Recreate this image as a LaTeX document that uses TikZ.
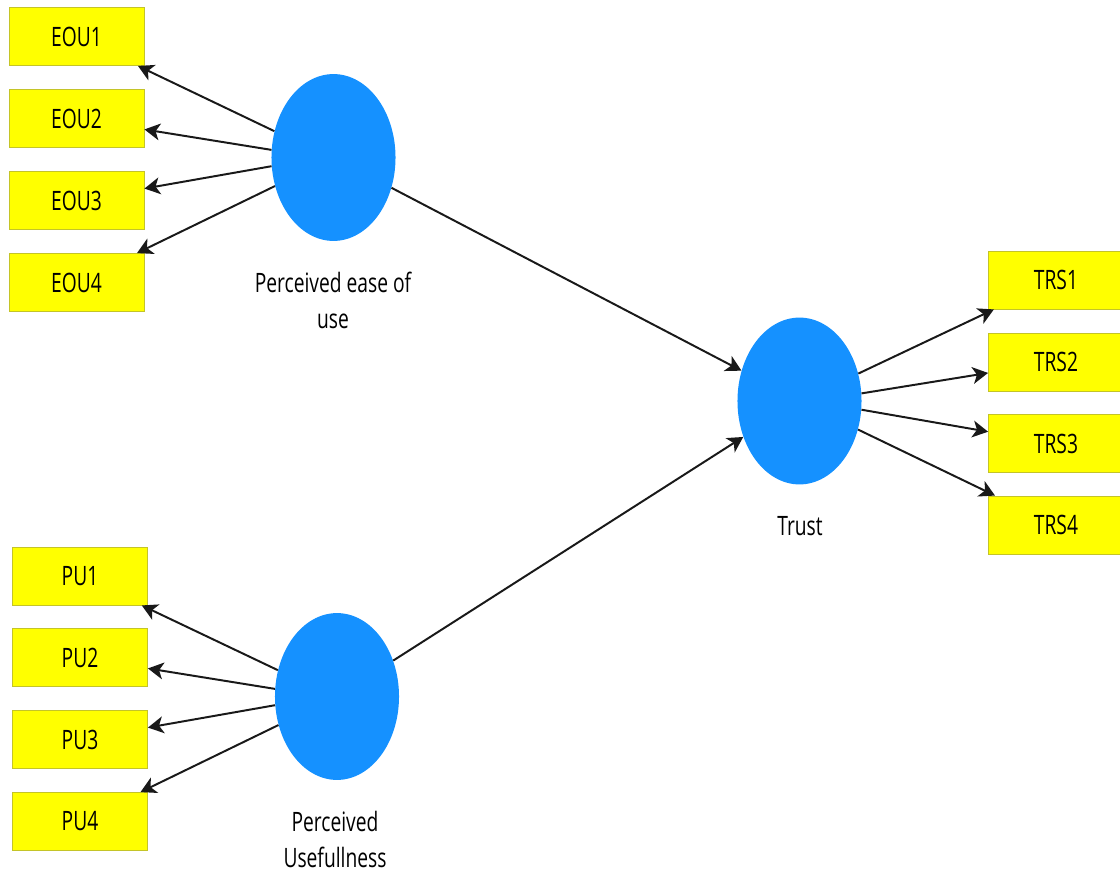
\documentclass[tikz,border=0pt]{standalone}
\usepackage{fontspec}
\setmainfont{Open Sans}[FakeStretch=0.72]
\usetikzlibrary{shapes.geometric,arrows.meta}
\definecolor{boxyellow}{RGB}{255,255,0}
\definecolor{boxedge}{RGB}{196,196,40}
\definecolor{lvblue}{RGB}{21,145,255}
\tikzset{
  ind/.style={rectangle, fill=boxyellow, draw=boxedge, line width=0.6pt,
    minimum width=3.375cm, minimum height=1.45cm, inner sep=0pt,
    font=\fontsize{19}{24}\selectfont},
  lv/.style={ellipse, fill=lvblue, draw=none, inner sep=0pt,
    minimum width=3.1cm, minimum height=4.17cm},
  lvlabel/.style={anchor=base, align=center, inner sep=0pt,
    font=\fontsize{19}{25.5}\selectfont},
  arr/.style={draw=black!90, line width=1.4pt, -{Stealth[length=11pt,width=12pt,inset=3pt]}}
}
\begin{document}
\begin{tikzpicture}[x=0.025cm,y=-0.025cm]
\useasboundingbox (0,0) rectangle (1120,874);
\fill[white] (0,0) rectangle (1120,874);
\clip (0,0) rectangle (1120,874);
% indicators
\node[ind] (E1) at (76.5,36.5) {EOU1};
\node[ind] (E2) at (76.5,118.5) {EOU2};
\node[ind] (E3) at (76.5,200.5) {EOU3};
\node[ind] (E4) at (76.5,282.5) {EOU4};
\node[ind] (P1) at (80,576) {PU1};
\node[ind] (P2) at (80,657.5) {PU2};
\node[ind] (P3) at (80,739.5) {PU3};
\node[ind] (P4) at (80,821.5) {PU4};
\node[ind] (T1) at (1056,280) {TRS1};
\node[ind] (T2) at (1056,362) {TRS2};
\node[ind] (T3) at (1056,443.5) {TRS3};
\node[ind] (T4) at (1056,525) {TRS4};
% latent variables
\node[lv] (eou) at (333.5,157.5) {};
\node[lv] (pu) at (337,696.5) {};
\node[lv] (trust) at (799.5,401) {};
\node[lvlabel] (eoul) at (333,328) {Perceived ease of\\use};
\node[lvlabel] (pul) at (335,867) {Perceived\\Usefullness};
\node[lvlabel] (trustl) at (800,535) {Trust};
% connectors
\draw[arr] (eou.156) -- (E1);
\draw[arr] (eou.173) -- (E2);
\draw[arr] (eou.188) -- (E3);
\draw[arr] (eou.206) -- (E4);
\draw[arr] (pu.156) -- (P1);
\draw[arr] (pu.173) -- (P2);
\draw[arr] (pu.188) -- (P3);
\draw[arr] (pu.206) -- (P4);
\draw[arr] (trust.25) -- (T1);
\draw[arr] (trust.7) -- (T2);
\draw[arr] (trust.-8) -- (T3);
\draw[arr] (trust.-26) -- (T4);
\draw[arr] (eou) -- (trust);
\draw[arr] (pu) -- (trust);
\end{tikzpicture}
\end{document}
